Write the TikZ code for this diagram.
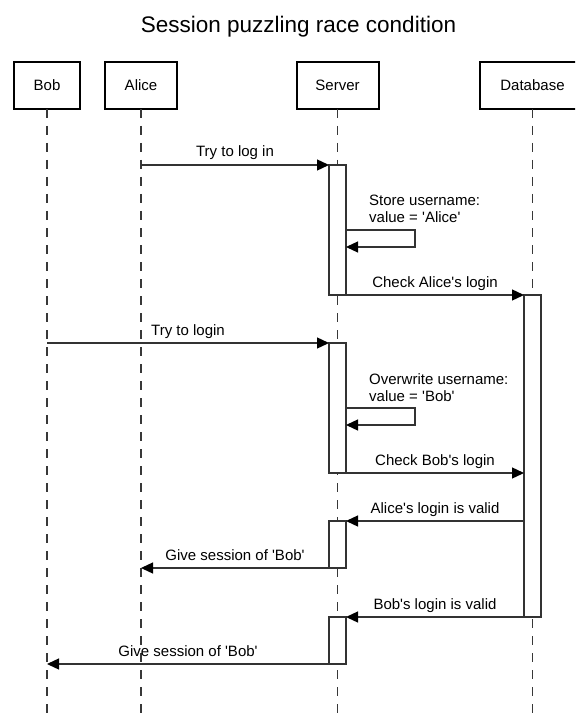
\documentclass[tikz,border=0pt]{standalone}
\usepackage{fontspec}
\setmainfont{Liberation Sans}
\usetikzlibrary{arrows.meta}
\newcommand{\sq}{\textquotesingle}
\begin{document}
\begin{tikzpicture}[x=1pt,y=-1pt,
  actor/.style={draw=black, line width=2pt, minimum height=47pt, inner sep=0pt, outer sep=0pt, font=\fontsize{15}{17}\selectfont},
  lifeline/.style={draw=black!78, line width=1.5pt, dash pattern=on 9pt off 8pt},
  bar/.style={draw=black!80, fill=white, line width=1.3pt, minimum width=17pt, inner sep=0pt, outer sep=0pt},
  msg/.style={draw=black!80, line width=1.3pt, -{Triangle[length=12pt,width=11pt,color=black]}},
  lbl/.style={anchor=base, yshift=8pt, inner sep=0pt, font=\fontsize{15}{17}\selectfont},
  note/.style={anchor=north west, align=left, inner sep=0pt, font=\fontsize{15}{17}\selectfont}]
\clip (0,0) rectangle (575,719);
\fill[white] (0,0) rectangle (575,719);

\node[anchor=base, inner sep=0pt, font=\fontsize{22.5}{27}\selectfont] (title) at (298.5,33) {Session puzzling race condition};

% participants
\node[actor, minimum width=66pt] (bob) at (47,85.5) {Bob};
\node[actor, minimum width=72pt] (alice) at (141,85.5) {Alice};
\node[actor, minimum width=82pt] (server) at (337.5,85.5) {Server};
\node[actor, minimum width=105pt] (db) at (532.5,85.5) {Database};

\coordinate (bot) at (0,719);
\draw[lifeline] (bob.south) -- (bob.south |- bot);
\draw[lifeline] (alice.south) -- (alice.south |- bot);
\draw[lifeline] (server.south) -- (server.south |- bot);
\draw[lifeline] (db.south) -- (db.south |- bot);

% activation bars
\node[bar, minimum height=130pt] (sb1) at (337.5,230) {};
\node[bar, minimum height=130pt] (sb2) at (337.5,408) {};
\node[bar, minimum height=47pt] (sb3) at (337.5,544.5) {};
\node[bar, minimum height=47pt] (sb4) at (337.5,640.5) {};
\node[bar, minimum height=322pt] (db1) at (532.5,456) {};

% messages
\draw[msg] (alice |- sb1.north west) -- node[lbl] {Try to log in} (sb1.north west);

\coordinate (l1a) at (415,230);
\coordinate (l1b) at (415,247);
\draw[msg] (sb1.east |- l1a) -- (l1a) -- (l1b) -- (sb1.east |- l1b);
\node[note] (n1) at (369,195) {Store username:\\value = \sq Alice\sq};

\draw[msg] (sb1.south east) -- node[lbl] {Check Alice\sq s login} (db1.north west);

\draw[msg] (bob |- sb2.north west) -- node[lbl] {Try to login} (sb2.north west);

\coordinate (l2a) at (415,408);
\coordinate (l2b) at (415,425);
\draw[msg] (sb2.east |- l2a) -- (l2a) -- (l2b) -- (sb2.east |- l2b);
\node[note] (n2) at (369,373) {Overwrite username:\\value = \sq Bob\sq};

\draw[msg] (sb2.south east) -- node[lbl] {Check Bob\sq s login} (db1.west |- sb2.south);

\draw[msg] (db1.west |- sb3.north) -- node[lbl] {Alice\sq s login is valid} (sb3.north east);
\draw[msg] (sb3.south west) -- node[lbl] {Give session of \sq Bob\sq} (alice |- sb3.south);

\draw[msg] (db1.south west) -- node[lbl] {Bob\sq s login is valid} (sb4.north east);
\draw[msg] (sb4.south west) -- node[lbl] {Give session of \sq Bob\sq} (bob |- sb4.south);
\end{tikzpicture}
\end{document}
